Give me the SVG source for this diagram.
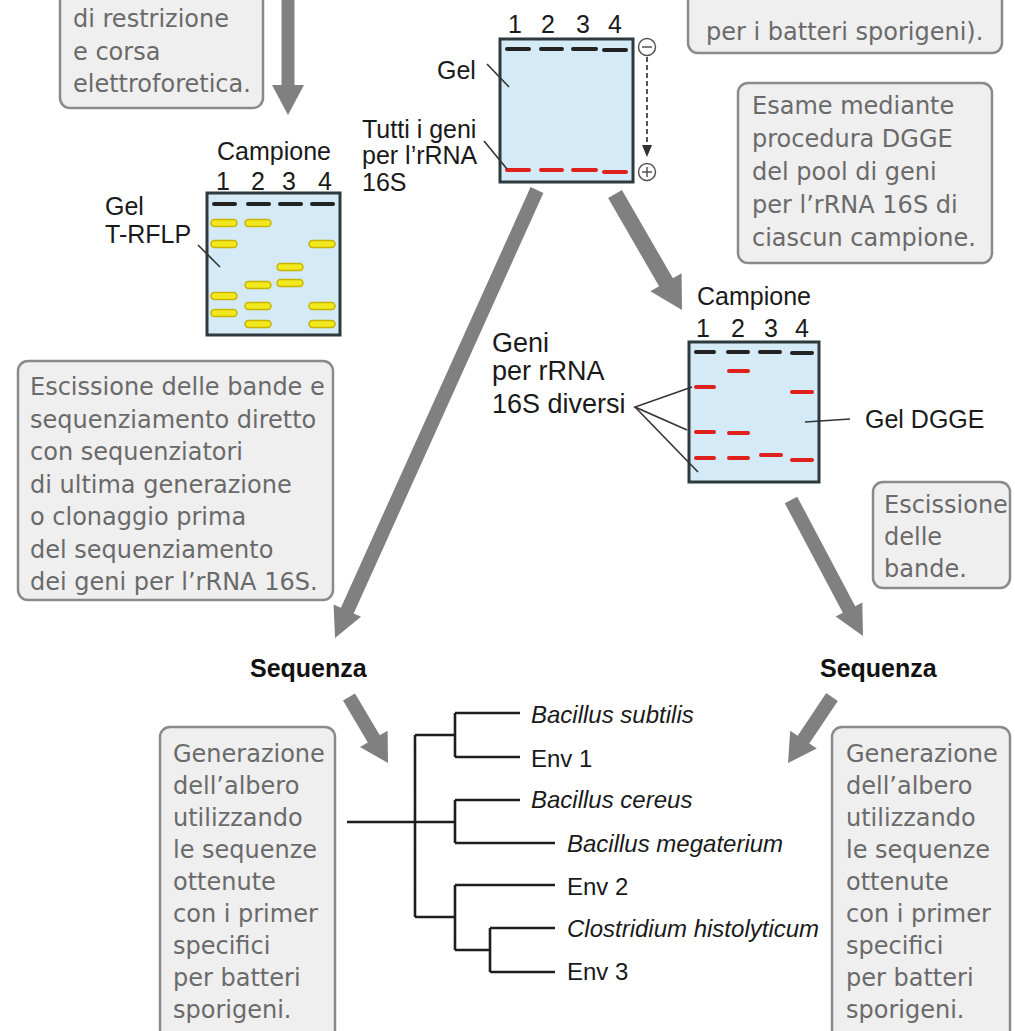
<svg xmlns="http://www.w3.org/2000/svg" width="1015" height="1031" viewBox="0 0 1015 1031">
<style>
.box{fill:#efefef;stroke:#8a8a8a;stroke-width:2.5}
.bt{font-family:"DejaVu Sans",sans-serif;font-size:24px;fill:#6a6a6a}
.lb{font-family:"Liberation Sans",Arial,sans-serif;font-size:25px;fill:#1a1a1a}
.lb2{font-family:"Liberation Sans",Arial,sans-serif;font-size:27px;fill:#1a1a1a}
.tr{font-family:"Liberation Sans",Arial,sans-serif;font-size:24px;fill:#1a1a1a}
.it{font-style:italic}
.sq{font-family:"Liberation Sans",Arial,sans-serif;font-size:25px;font-weight:bold;fill:#111}
.gel{fill:#d4eaf7;stroke:#2f3a3f;stroke-width:3}
.arr{fill:#808080}
.kb{stroke:#222;stroke-width:4;stroke-linecap:round}
.rb{stroke:#e0201c;stroke-width:4;stroke-linecap:round}
.yb{fill:#f2e81e;stroke:#c8b400;stroke-width:1.5}
.ld{stroke:#333;stroke-width:1.6;fill:none}
.tree{stroke:#1e1e1e;stroke-width:2.6;fill:none}
</style>
<rect width="1015" height="1031" fill="#fff"/>

<g id="connectors">
<polygon class="arr" points="281.5,0 294.5,0 294.5,85 304,85 288,115 272,85 281.5,85"/>
<polygon class="arr" points="530.6,187.1 543.4,192.9 353.7,613.5 361,616.8 335,638 333.6,604.5 340.9,607.8"/>
<polygon class="arr" points="621.9,190 608.1,198 659.1,286.3 650.4,291.3 682,310 681.6,273.3 672.9,278.3"/>
<polygon class="arr" points="797.2,496.7 784.8,503.3 842.8,612.8 835.7,616.5 863,636 862.3,602.5 855.2,606.2"/>
<polygon class="arr" points="355,693.4 343,700.6 367.8,742.5 360,747 388,763 387.6,730.8 379.8,735.3"/>
<polygon class="arr" points="826.2,693.1 837.8,700.9 809.3,743.6 816.8,748.6 788,763 790.2,730.8 797.7,735.8"/>
</g>

<g id="box-restrizione">
<rect class="box" x="60" y="-60" width="203" height="168" rx="10"/>
<text class="bt" x="73" y="27">di restrizione</text>
<text class="bt" x="73" y="60">e corsa</text>
<text class="bt" x="73" y="92">elettroforetica.</text>
</g>

<g id="box-primer">
<rect class="box" x="688" y="-60" width="314" height="113" rx="10"/>
<text class="bt" x="706" y="40">per i batteri sporigeni).</text>
</g>

<g id="gel-center">
<rect class="gel" x="500" y="39" width="133" height="143"/>
<g class="lb"><text x="515" y="33" text-anchor="middle">1</text><text x="548" y="33" text-anchor="middle">2</text><text x="583" y="33" text-anchor="middle">3</text><text x="615" y="33" text-anchor="middle">4</text></g>
<line class="kb" x1="507" y1="49" x2="529" y2="49"/><line class="kb" x1="541" y1="49" x2="562" y2="49"/><line class="kb" x1="573" y1="49" x2="596" y2="49"/><line class="kb" x1="604" y1="50" x2="626" y2="50"/>
<line class="rb" x1="507" y1="170" x2="529" y2="170"/><line class="rb" x1="541" y1="170" x2="562" y2="170"/><line class="rb" x1="573" y1="170" x2="596" y2="170"/><line class="rb" x1="604" y1="172" x2="626" y2="172"/>
<text class="lb" x="437" y="79">Gel</text>
<line class="ld" x1="487" y1="64" x2="509" y2="87"/>
<text class="lb" x="362" y="138">Tutti i geni</text>
<text class="lb" x="362" y="164">per l’rRNA</text>
<text class="lb" x="362" y="191">16S</text>
<line class="ld" x1="484" y1="141" x2="507" y2="169"/>
<circle cx="647" cy="47" r="8.5" fill="#fff" stroke="#555" stroke-width="1.5"/>
<line x1="642" y1="47" x2="652" y2="47" stroke="#555" stroke-width="1.5"/>
<line x1="647" y1="57" x2="647" y2="146" stroke="#555" stroke-width="2" stroke-dasharray="5 3"/>
<polygon points="642,145 652,145 647,157" fill="#333"/>
<circle cx="647" cy="172" r="8.5" fill="#fff" stroke="#555" stroke-width="1.5"/>
<line x1="642" y1="172" x2="652" y2="172" stroke="#555" stroke-width="1.5"/>
<line x1="647" y1="167" x2="647" y2="177" stroke="#555" stroke-width="1.5"/>
</g>

<g id="box-dgge">
<rect class="box" x="738" y="83" width="254" height="180" rx="10"/>
<text class="bt" x="752" y="114">Esame mediante</text>
<text class="bt" x="752" y="147">procedura DGGE</text>
<text class="bt" x="752" y="180">del pool di geni</text>
<text class="bt" x="752" y="213">per l’rRNA 16S di</text>
<text class="bt" x="752" y="246">ciascun campione.</text>
</g>

<g id="gel-trflp">
<text class="lb" x="274" y="160" text-anchor="middle">Campione</text>
<g class="lb"><text x="223" y="190" text-anchor="middle">1</text><text x="258" y="190" text-anchor="middle">2</text><text x="289" y="190" text-anchor="middle">3</text><text x="325" y="190" text-anchor="middle">4</text></g>
<rect class="gel" x="207" y="193" width="133" height="142"/>
<line class="kb" x1="214" y1="204" x2="235" y2="204"/><line class="kb" x1="248" y1="204" x2="269" y2="204"/><line class="kb" x1="280" y1="204" x2="301" y2="204"/><line class="kb" x1="312" y1="204" x2="333" y2="204"/>
<g class="yb">
<rect x="211" y="219.5" width="26" height="7" rx="3.5"/><rect x="211" y="240.5" width="26" height="7" rx="3.5"/><rect x="211" y="292.5" width="26" height="7" rx="3.5"/><rect x="211" y="309.5" width="26" height="7" rx="3.5"/>
<rect x="245" y="219.5" width="26" height="7" rx="3.5"/><rect x="245" y="281.5" width="26" height="7" rx="3.5"/><rect x="245" y="302.5" width="26" height="7" rx="3.5"/><rect x="245" y="320.5" width="26" height="7" rx="3.5"/>
<rect x="277" y="263.5" width="26" height="7" rx="3.5"/><rect x="277" y="279.5" width="26" height="7" rx="3.5"/>
<rect x="309" y="240.5" width="26" height="7" rx="3.5"/><rect x="309" y="302.5" width="26" height="7" rx="3.5"/><rect x="309" y="320.5" width="26" height="7" rx="3.5"/>
</g>
<text class="lb" x="105" y="215">Gel</text>
<text class="lb" x="105" y="243">T-RFLP</text>
<line class="ld" x1="198" y1="245" x2="220" y2="267"/>
</g>

<g id="box-escissione">
<rect class="box" x="18" y="361" width="315" height="239" rx="10"/>
<text class="bt" x="30" y="395">Escissione delle bande e</text>
<text class="bt" x="30" y="427.5">sequenziamento diretto</text>
<text class="bt" x="30" y="460">con sequenziatori</text>
<text class="bt" x="30" y="492.5">di ultima generazione</text>
<text class="bt" x="30" y="525">o clonaggio prima</text>
<text class="bt" x="30" y="557.5">del sequenziamento</text>
<text class="bt" x="30" y="590">dei geni per l’rRNA 16S.</text>
</g>

<g id="gel-dgge">
<text class="lb" x="754" y="305" text-anchor="middle">Campione</text>
<g class="lb"><text x="703" y="337" text-anchor="middle">1</text><text x="738" y="337" text-anchor="middle">2</text><text x="771" y="337" text-anchor="middle">3</text><text x="802" y="337" text-anchor="middle">4</text></g>
<rect class="gel" x="689" y="342" width="130" height="140"/>
<line class="kb" x1="696" y1="352" x2="714" y2="352"/><line class="kb" x1="728" y1="352" x2="748" y2="352"/><line class="kb" x1="760" y1="352" x2="780" y2="352"/><line class="kb" x1="792" y1="353" x2="812" y2="353"/>
<line class="rb" x1="696" y1="387" x2="714" y2="387"/><line class="rb" x1="696" y1="432" x2="714" y2="432"/><line class="rb" x1="696" y1="458" x2="714" y2="458"/>
<line class="rb" x1="729" y1="371" x2="748" y2="371"/><line class="rb" x1="729" y1="433" x2="748" y2="433"/><line class="rb" x1="729" y1="458" x2="748" y2="458"/>
<line class="rb" x1="761" y1="455" x2="781" y2="455"/>
<line class="rb" x1="792" y1="392" x2="812" y2="392"/><line class="rb" x1="792" y1="460" x2="812" y2="460"/>
<text class="lb2" x="492" y="352">Geni</text>
<text class="lb2" x="492" y="380">per rRNA</text>
<text class="lb2" x="492" y="413">16S diversi</text>
<polyline class="ld" points="692,387 635,407 687,430"/>
<line class="ld" x1="635" y1="407" x2="698" y2="472"/>
<text class="lb" x="865" y="428">Gel DGGE</text>
<line class="ld" x1="805" y1="422" x2="850" y2="419"/>
</g>

<g id="box-bande">
<rect class="box" x="873" y="482" width="137" height="106" rx="10"/>
<text class="bt" x="884" y="513">Escissione</text>
<text class="bt" x="884" y="545">delle</text>
<text class="bt" x="884" y="577">bande.</text>
</g>

<g id="seq-left"><text class="sq" x="250" y="677">Sequenza</text></g>
<g id="seq-right"><text class="sq" x="820" y="677">Sequenza</text></g>

<g id="tree">
<path class="tree" d="M347,822 H455 M415,735 V917 M415,735 H455 M455,713 V757 M455,713 H520 M455,757 H520 M455,800 V843 M455,800 H520 M455,843 H555 M415,917 H455 M455,885 V950 M455,885 H555 M455,950 H490 M490,928 V972 M490,928 H555 M490,972 H555"/>
<text class="tr it" x="531" y="723">Bacillus subtilis</text>
<text class="tr" x="531" y="767">Env 1</text>
<text class="tr it" x="531" y="808">Bacillus cereus</text>
<text class="tr it" x="567" y="852">Bacillus megaterium</text>
<text class="tr" x="567" y="895">Env 2</text>
<text class="tr it" x="567" y="937">Clostridium histolyticum</text>
<text class="tr" x="567" y="980">Env 3</text>
</g>

<g id="box-albero-left">
<rect class="box" x="160" y="727" width="175" height="320" rx="10"/>
<text class="bt" x="173" y="762">Generazione</text>
<text class="bt" x="173" y="794">dell’albero</text>
<text class="bt" x="173" y="826">utilizzando</text>
<text class="bt" x="173" y="858">le sequenze</text>
<text class="bt" x="173" y="890">ottenute</text>
<text class="bt" x="173" y="922">con i primer</text>
<text class="bt" x="173" y="954">specifici</text>
<text class="bt" x="173" y="986">per batteri</text>
<text class="bt" x="173" y="1018">sporigeni.</text>
</g>

<g id="box-albero-right">
<rect class="box" x="832" y="727" width="178" height="320" rx="10"/>
<text class="bt" x="846" y="762">Generazione</text>
<text class="bt" x="846" y="794">dell’albero</text>
<text class="bt" x="846" y="826">utilizzando</text>
<text class="bt" x="846" y="858">le sequenze</text>
<text class="bt" x="846" y="890">ottenute</text>
<text class="bt" x="846" y="922">con i primer</text>
<text class="bt" x="846" y="954">specifici</text>
<text class="bt" x="846" y="986">per batteri</text>
<text class="bt" x="846" y="1018">sporigeni.</text>
</g>
</svg>
